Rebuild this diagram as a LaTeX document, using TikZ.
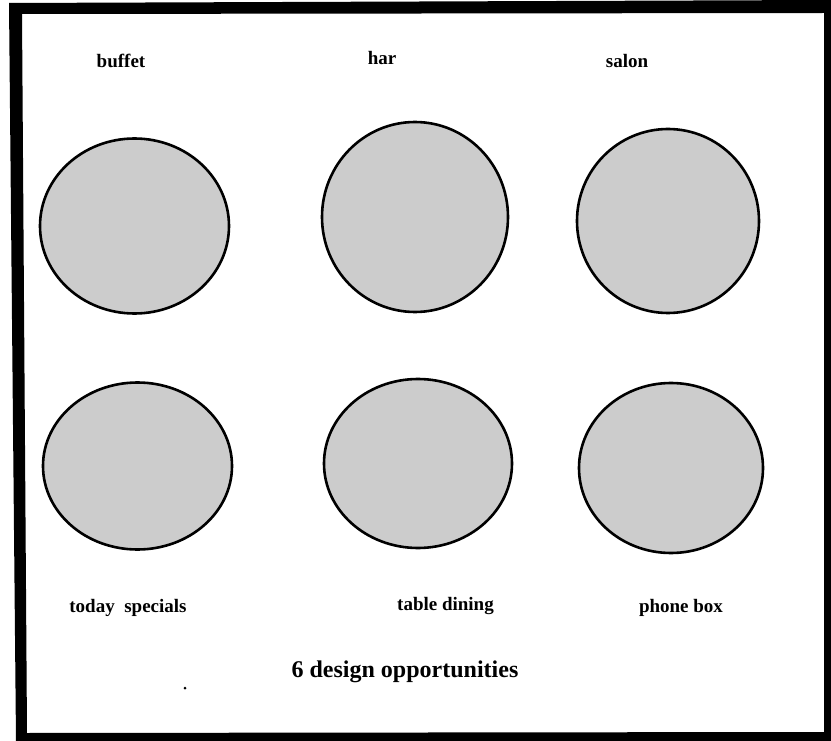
\documentclass[tikz,border=0pt]{standalone}
\usepackage{fontspec}
\setmainfont{Liberation Serif}
\usetikzlibrary{shapes.geometric}
\definecolor{dotgray}{RGB}{204,204,204}
\begin{document}
\begin{tikzpicture}[x=1pt,y=-1pt,
  disc/.style={ellipse,draw=black,line width=2.6pt,fill=dotgray,inner sep=0pt},
  lbl/.style={font=\fontsize{19}{22}\selectfont\bfseries,anchor=base,inner sep=0pt},
  ttl/.style={font=\fontsize{24}{28}\selectfont\bfseries,anchor=base,inner sep=0pt}]
\useasboundingbox (0,0) rectangle (831,741);
\fill[white] (0,0) rectangle (831,741);
% frame
\fill[black,even odd rule] (9,3) -- (831,0) -- (831,741) -- (16,741) -- cycle
  (22,14) -- (824,13) -- (824,732) -- (27,733) -- cycle;
% discs
\node[disc,minimum width=189pt,minimum height=175pt] (c1) at (134.5,226) {};
\node[disc,minimum width=186pt,minimum height=190pt] (c2) at (415,217) {};
\node[disc,minimum width=182pt,minimum height=184pt] (c3) at (668,221) {};
\node[disc,minimum width=189pt,minimum height=167pt] (c4) at (137.5,466) {};
\node[disc,minimum width=188pt,minimum height=169pt] (c5) at (418,463.5) {};
\node[disc,minimum width=184pt,minimum height=170pt] (c6) at (671,468) {};
% labels
\node[lbl] (l1) at (121,68) {buffet};
\node[lbl] (l2) at (382,65) {har};
\node[lbl] (l3) at (627,68) {salon};
\node[lbl] (l4) at (128,612) {today\ \ specials};
\node[lbl] (l5) at (445.5,610) {table dining};
\node[lbl] (l6) at (681,612) {phone box};
\node[ttl] (t) at (405,677) {6 design opportunities};
\fill (185,688) circle (1.5pt);
\end{tikzpicture}
\end{document}
